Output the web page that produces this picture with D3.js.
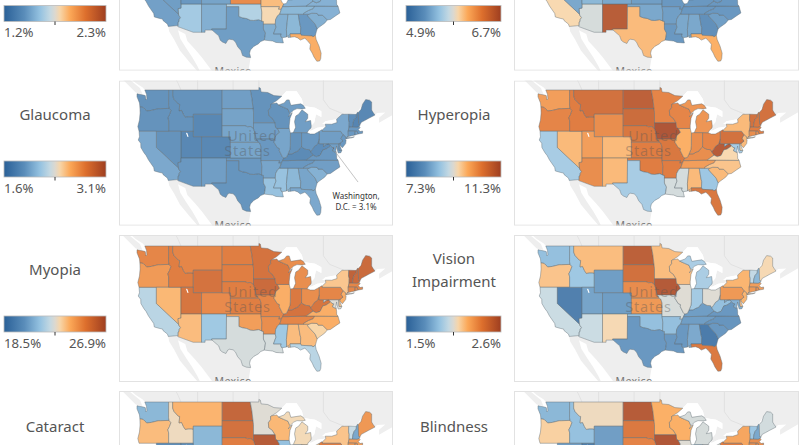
<!DOCTYPE html>
<html><head><meta charset="utf-8">
<script src="https://cdn.jsdelivr.net/npm/d3@7"></script>
<style>html,body{margin:0;background:#fff;overflow:hidden}text{font-family:"Noto Sans",sans-serif}</style>
</head><body><svg id="c" width="800" height="445"></svg>
<script>
// Simplified outlines, [lon, lat]
const stateShapes = {
WA:[[[-124.7,48.4],[-123.2,48.2],[-122.7,48.1],[-122.5,47.4],[-122.3,47.6],[-122.4,48.3],[-122.8,49],[-117.03,49],[-117.04,46.42],[-116.92,45.99],[-119,45.93],[-119.6,45.92],[-121.2,45.65],[-122.3,45.55],[-122.8,45.85],[-123.2,46.15],[-124,46.25],[-124.1,46.9],[-124.7,47.9]]],
OR:[[[-124,46.25],[-123.2,46.15],[-122.8,45.85],[-122.3,45.55],[-121.2,45.65],[-119.6,45.92],[-119,45.93],[-116.92,45.99],[-116.47,45.6],[-116.85,44.9],[-117.22,44.4],[-117.03,43.85],[-117.03,42],[-120,42],[-124.2,42],[-124.5,42.85],[-124.1,44],[-123.95,45.2]]],
CA:[[[-124.2,42],[-120,42],[-120,39],[-114.63,35],[-114.57,34.8],[-114.14,34.3],[-114.45,34],[-114.53,33.5],[-114.72,33.4],[-114.72,32.72],[-117.12,32.53],[-117.3,33],[-118.4,33.75],[-118.5,34.03],[-119.2,34.15],[-120.5,34.45],[-120.65,35.15],[-121.9,36.6],[-122.5,37.5],[-123,38],[-123.75,39],[-123.8,39.8],[-124.4,40.4],[-124.1,41]]],
NV:[[[-120,42],[-117.03,42],[-114.04,42],[-114.04,37],[-114.04,36.2],[-114.75,36.1],[-114.63,35],[-120,39]]],
ID:[[[-117.03,49],[-116.05,49],[-116.05,48],[-115.7,47.45],[-114.7,46.7],[-114.35,46.65],[-114.5,45.55],[-113.9,45.65],[-113.45,44.95],[-113,44.45],[-112.3,44.55],[-111.5,44.55],[-111.05,44.48],[-111.05,42],[-114.04,42],[-117.03,42],[-117.03,43.85],[-117.22,44.4],[-116.85,44.9],[-116.47,45.6],[-116.92,45.99],[-117.04,46.42]]],
MT:[[[-116.05,49],[-104.05,49],[-104.05,45.94],[-104.05,45],[-111.05,45],[-111.05,44.48],[-111.5,44.55],[-112.3,44.55],[-113,44.45],[-113.45,44.95],[-113.9,45.65],[-114.5,45.55],[-114.35,46.65],[-114.7,46.7],[-115.7,47.45],[-116.05,48]]],
WY:[[[-111.05,45],[-104.05,45],[-104.05,43],[-104.05,41],[-109.05,41],[-111.05,41],[-111.05,42],[-111.05,44.48]]],
UT:[[[-114.04,42],[-111.05,42],[-111.05,41],[-109.05,41],[-109.05,37],[-114.04,37]]],
AZ:[[[-114.04,37],[-109.05,37],[-109.05,31.33],[-111.07,31.33],[-114.82,32.5],[-114.72,32.72],[-114.72,33.4],[-114.53,33.5],[-114.45,34],[-114.14,34.3],[-114.57,34.8],[-114.63,35],[-114.75,36.1],[-114.04,36.2]]],
CO:[[[-109.05,41],[-104.05,41],[-102.05,41],[-102.05,40],[-102.05,37],[-103,37],[-109.05,37]]],
NM:[[[-109.05,37],[-103,37],[-103,36.5],[-103.04,32],[-106.62,32],[-106.5,31.78],[-108.2,31.78],[-108.2,31.33],[-109.05,31.33]]],
TX:[[[-103,36.5],[-100,36.5],[-100,34.56],[-99.2,34.3],[-98.1,34.13],[-97.2,33.8],[-96.4,33.75],[-95.2,33.9],[-94.48,33.64],[-94.04,33.55],[-94.04,33],[-94.04,31.99],[-93.55,31.2],[-93.7,30.3],[-93.85,29.7],[-94.7,29.4],[-95.3,28.9],[-96.4,28.35],[-97.2,27.6],[-97.4,26.9],[-97.15,25.95],[-98.2,26.05],[-99.1,26.4],[-99.5,27.5],[-100.3,28.3],[-100.8,29.25],[-101.4,29.77],[-102.3,29.88],[-102.7,29.7],[-103.15,28.98],[-104,29.3],[-104.5,29.65],[-104.9,30.6],[-106.5,31.78],[-106.62,32],[-103.04,32]]],
OK:[[[-103,37],[-102.05,37],[-94.62,37],[-94.62,36.5],[-94.43,35.4],[-94.48,33.64],[-95.2,33.9],[-96.4,33.75],[-97.2,33.8],[-98.1,34.13],[-99.2,34.3],[-100,34.56],[-100,36.5],[-103,36.5]]],
KS:[[[-102.05,40],[-95.3,40],[-94.9,39.8],[-94.62,39.1],[-94.62,37],[-102.05,37]]],
NE:[[[-104.05,43],[-98.5,43],[-97.9,42.8],[-97.2,42.85],[-96.45,42.5],[-96.1,41.7],[-95.85,40.7],[-95.77,40.58],[-95.3,40],[-102.05,40],[-102.05,41],[-104.05,41]]],
SD:[[[-104.05,45.94],[-96.56,45.94],[-96.45,45.3],[-96.45,43.5],[-96.45,42.5],[-97.2,42.85],[-97.9,42.8],[-98.5,43],[-104.05,43]]],
ND:[[[-104.05,49],[-97.23,49],[-96.85,47.6],[-96.56,45.94],[-104.05,45.94]]],
MN:[[[-97.23,49],[-95.15,49],[-95.15,49.4],[-94.8,49.3],[-94.6,48.7],[-93,48.6],[-91.5,48.1],[-89.6,48],[-90.8,47.3],[-92.05,46.75],[-92.3,46.65],[-92.3,46.1],[-92.85,45.6],[-92.75,44.75],[-91.9,44.3],[-91.22,43.5],[-96.45,43.5],[-96.45,45.3],[-96.56,45.94],[-96.85,47.6]]],
IA:[[[-96.45,43.5],[-91.22,43.5],[-91.1,42.7],[-90.65,42.5],[-90.15,41.8],[-91.05,41.2],[-91.4,40.4],[-91.7,40.6],[-95.77,40.58],[-95.85,40.7],[-96.1,41.7],[-96.45,42.5]]],
MO:[[[-95.77,40.58],[-91.7,40.6],[-91.4,40.4],[-91.5,40],[-90.7,39],[-90.15,38.8],[-90.2,38.4],[-89.5,37.3],[-89.13,37],[-89.4,36.5],[-89.7,36],[-90.37,36],[-90.15,36.5],[-94.62,36.5],[-94.62,37],[-94.62,39.1],[-94.9,39.8],[-95.3,40]]],
AR:[[[-94.62,36.5],[-90.15,36.5],[-90.37,36],[-89.7,36],[-90.1,35],[-90.6,34.7],[-91.1,33.9],[-91.17,33],[-94.04,33],[-94.04,33.55],[-94.48,33.64],[-94.43,35.4]]],
LA:[[[-94.04,33],[-91.17,33],[-91,32.4],[-91.6,31],[-89.73,31],[-89.85,30.65],[-89.6,30.2],[-89.4,30.05],[-89.4,29.8],[-89.2,29.1],[-90.1,29.15],[-91,29.2],[-91.8,29.5],[-92.3,29.55],[-93.85,29.7],[-93.7,30.3],[-93.55,31.2],[-94.04,31.99]]],
MS:[[[-91.17,33],[-91.1,33.9],[-90.6,34.7],[-90.1,35],[-88.2,35],[-88.1,34.9],[-88.47,31.9],[-88.4,30.35],[-89.6,30.2],[-89.85,30.65],[-89.73,31],[-91.6,31],[-91,32.4]]],
AL:[[[-88.2,35],[-85.6,35],[-85.18,32.87],[-85,32.3],[-85.05,31],[-87.6,31],[-87.5,30.3],[-88.1,30.25],[-88,30.7],[-88.4,30.35],[-88.47,31.9],[-88.1,34.9]]],
TN:[[[-90.1,35],[-89.7,36],[-89.4,36.5],[-88.05,36.5],[-83.68,36.6],[-81.68,36.59],[-82,36.1],[-83.1,35.75],[-84.3,35.2],[-84.32,34.99],[-85.6,35],[-88.2,35]]],
KY:[[[-89.4,36.5],[-89.13,37],[-88.5,37.1],[-88.05,37.8],[-87.1,37.8],[-86.3,38.15],[-85.7,38.3],[-85.4,38.7],[-84.8,39.1],[-84.25,38.85],[-83.7,38.65],[-82.85,38.6],[-82.6,38.2],[-82,37.55],[-83.68,36.6],[-88.05,36.5]]],
IL:[[[-91.5,40],[-91.4,40.4],[-91.05,41.2],[-90.15,41.8],[-90.65,42.5],[-87.8,42.5],[-87.5,41.7],[-87.53,39.35],[-87.6,38.7],[-88.05,37.8],[-88.5,37.1],[-89.13,37],[-89.5,37.3],[-90.2,38.4],[-90.15,38.8],[-90.7,39]]],
IN:[[[-87.5,41.7],[-86.8,41.76],[-84.8,41.76],[-84.8,39.1],[-85.4,38.7],[-85.7,38.3],[-86.3,38.15],[-87.1,37.8],[-88.05,37.8],[-87.6,38.7],[-87.53,39.35]]],
OH:[[[-84.8,41.76],[-83.45,41.73],[-82.7,41.5],[-81.7,41.5],[-80.52,41.98],[-80.52,40.64],[-80.85,39.7],[-81.7,39.2],[-82.2,38.6],[-82.6,38.2],[-82.85,38.6],[-83.7,38.65],[-84.25,38.85],[-84.8,39.1]]],
WV:[[[-80.52,40.64],[-80.52,39.72],[-79.48,39.72],[-79.48,39.2],[-78.8,39.6],[-78.2,39.7],[-77.75,39.3],[-78.3,39],[-78.9,38.7],[-79.65,38.55],[-80.3,37.5],[-81.25,37.25],[-82,37.55],[-82.6,38.2],[-82.2,38.6],[-81.7,39.2],[-80.85,39.7]]],
VA:[[[-83.68,36.6],[-82,37.55],[-81.25,37.25],[-80.3,37.5],[-79.65,38.55],[-78.9,38.7],[-78.3,39],[-77.75,39.3],[-77.05,38.85],[-77.3,38.4],[-76.4,38],[-76.3,37.5],[-76.3,36.95],[-75.95,36.55],[-81.68,36.59]]],
NC:[[[-84.32,34.99],[-84.3,35.2],[-83.1,35.75],[-82,36.1],[-81.68,36.59],[-75.95,36.55],[-75.5,35.25],[-76.5,34.7],[-77.8,33.95],[-78.55,33.85],[-79.7,34.8],[-80.8,34.82],[-81,35.15],[-82.3,35.2],[-83.1,35]]],
SC:[[[-83.1,35],[-82.3,35.2],[-81,35.15],[-80.8,34.82],[-79.7,34.8],[-78.55,33.85],[-79.2,33.2],[-80.5,32.4],[-81,32.05],[-81.5,33],[-82.6,34],[-83.35,34.7]]],
GA:[[[-85.6,35],[-84.32,34.99],[-83.1,35],[-83.35,34.7],[-82.6,34],[-81.5,33],[-81,32.05],[-81.2,31.5],[-81.45,30.7],[-82.05,30.37],[-82.2,30.57],[-84.86,30.7],[-85.05,31],[-85,32.3],[-85.18,32.87]]],
FL:[[[-87.6,31],[-85.05,31],[-84.86,30.7],[-82.2,30.57],[-82.05,30.37],[-81.45,30.7],[-81.25,29.8],[-80.55,28.4],[-80.05,26.9],[-80.15,25.75],[-80.4,25.2],[-81.1,25.15],[-81.8,26.1],[-82.2,26.9],[-82.8,27.8],[-82.65,28.8],[-83.4,29.6],[-84,30.1],[-85.1,29.7],[-85.7,30.15],[-86.5,30.4],[-87.5,30.3]]],
MI:[[[-86.8,41.76],[-84.8,41.76],[-83.45,41.73],[-83.1,42.2],[-82.5,42.6],[-82.45,43],[-82.6,43.9],[-83.9,43.7],[-83.3,44.3],[-83.3,45],[-84.7,45.75],[-85.5,45],[-86.2,44.7],[-86.5,43.7],[-86.25,42.7]],[[-90.4,46.55],[-89,46.9],[-88.4,47.4],[-87.8,47.4],[-87.4,46.5],[-85,46.75],[-84.4,46.5],[-83.9,46],[-84.7,45.9],[-85.9,45.95],[-86.7,45.7],[-87.6,45.1],[-87.8,45.35],[-88.1,45.85],[-89.1,46.15]]],
WI:[[[-92.05,46.75],[-90.8,46.9],[-90.4,46.55],[-89.1,46.15],[-88.1,45.85],[-87.8,45.35],[-87.6,45.1],[-88,44.55],[-87.05,45.25],[-87.6,44.3],[-87.8,43],[-87.8,42.5],[-90.65,42.5],[-91.1,42.7],[-91.22,43.5],[-91.9,44.3],[-92.75,44.75],[-92.85,45.6],[-92.3,46.1],[-92.3,46.65]]],
PA:[[[-80.52,41.98],[-80,42.25],[-79.76,42.25],[-79.76,42],[-75.35,42],[-74.7,41.36],[-75.1,40.95],[-75.2,40.65],[-74.75,40.2],[-75.4,39.82],[-75.8,39.72],[-79.48,39.72],[-80.52,39.72],[-80.52,40.64]]],
NY:[[[-79.76,42.25],[-78.9,42.85],[-79.05,43.27],[-77.5,43.25],[-76.2,43.55],[-76.3,44.15],[-75,44.98],[-73.35,45],[-73.4,44],[-73.25,43.6],[-73.28,42.75],[-73.5,42.05],[-73.48,41.2],[-73.7,41],[-74,40.7],[-74.1,41],[-74.7,41.36],[-75.35,42],[-79.76,42]],[[-74,40.6],[-72,41],[-72.6,40.8],[-73.75,40.85]]],
VT:[[[-73.35,45],[-71.5,45],[-71.55,44.5],[-72.05,44.1],[-72.35,43.5],[-72.46,42.73],[-73.28,42.75],[-73.25,43.6],[-73.4,44]]],
NH:[[[-71.5,45],[-71.3,45.3],[-71.05,45.3],[-70.98,43.4],[-70.7,43.07],[-70.82,42.87],[-71.3,42.7],[-72.46,42.73],[-72.35,43.5],[-72.05,44.1],[-71.55,44.5]]],
ME:[[[-71.05,45.3],[-70.4,45.8],[-70,46.7],[-69.25,47.45],[-68.3,47.35],[-67.8,47.05],[-67.8,45.7],[-67.45,45.3],[-67,44.85],[-68.5,44.3],[-69.5,43.9],[-70.3,43.6],[-70.7,43.07],[-70.98,43.4]]],
MA:[[[-73.5,42.05],[-73.28,42.75],[-72.46,42.73],[-71.3,42.7],[-70.82,42.87],[-70.6,42.65],[-71.05,42.3],[-70.6,41.95],[-70,42.05],[-70,41.65],[-71.1,41.5],[-71.38,42.02],[-71.8,42.02]]],
CT:[[[-73.5,42.05],[-71.8,42.02],[-71.85,41.32],[-73.7,41],[-73.48,41.2]]],
RI:[[[-71.8,42.02],[-71.38,42.02],[-71.1,41.5],[-71.85,41.32]]],
NJ:[[[-74.7,41.36],[-74.1,41],[-74,40.7],[-74.2,40.5],[-74,40.4],[-74.1,39.75],[-74.9,38.95],[-75.5,39.5],[-75.4,39.82],[-74.75,40.2],[-75.2,40.65],[-75.1,40.95]]],
DE:[[[-75.8,39.72],[-75.4,39.82],[-75.55,39.45],[-75.05,38.45],[-75.7,38.45]]],
MD:[[[-79.48,39.72],[-75.8,39.72],[-75.7,38.45],[-75.05,38.45],[-75.25,38.03],[-75.9,37.95],[-76.2,38.7],[-76.3,39.3],[-76.5,38.4],[-76.35,38.05],[-77.3,38.4],[-77.05,38.85],[-77.75,39.3],[-78.2,39.7],[-78.8,39.6],[-79.48,39.2]]],
DC:[[[-77.12,38.93],[-77.04,39],[-76.91,38.89],[-77.04,38.79]]]
};
const canada = [[-140,70],[-50,70],[-50,47],[-59.5,47],[-61,45.6],[-66,43.5],[-66,44.4],[-64.5,45.3],[-66.5,45.2],[-67,44.85],[-67.45,45.3],[-67.8,45.7],[-67.8,47.05],[-68.3,47.35],[-69.25,47.45],[-70,46.7],[-71.3,45.3],[-73.35,45],[-75,44.98],[-76.3,44.15],[-79,43.8],[-79.8,43.3],[-79.05,43.27],[-78.9,42.85],[-81,42.65],[-82.5,42.1],[-83.1,42.2],[-82.45,43],[-81.7,43.6],[-81.3,45],[-80,44.5],[-80,45.5],[-81.5,46.1],[-84.3,46.4],[-84.7,47.5],[-86,48.8],[-88.5,48.8],[-89.6,48],[-91.5,48.1],[-94.6,48.7],[-95.15,49],[-122.8,49],[-123.3,49.4],[-125,50.1],[-127.5,51.5],[-130,54],[-135,60]];
const vancouverIsland = [[-128.4,50.8],[-125,48.6],[-123.4,48.35],[-124,49.3],[-127,50.9]];
const baja = [[-117.12,32.53],[-114.72,32.72],[-114.82,32.5],[-114.7,31.6],[-114.2,30],[-112.8,28],[-111.3,26],[-110,24],[-109.5,23],[-110,22.9],[-112,25],[-114.3,27.5],[-115.7,29.8],[-116.9,31.5]];
const mexicoMain = [[-114.82,32.5],[-111.07,31.33],[-108.2,31.33],[-108.2,31.78],[-106.5,31.78],[-104.9,30.6],[-104.5,29.65],[-104,29.3],[-103.15,28.98],[-102.7,29.7],[-102.3,29.88],[-101.4,29.77],[-100.8,29.25],[-100.3,28.3],[-99.5,27.5],[-99.1,26.4],[-98.2,26.05],[-97.15,25.95],[-97.8,22.3],[-97.5,20],[-99,18],[-105.5,20],[-106.5,23],[-109,26],[-110.7,27.8],[-112.5,29.5],[-113,31],[-114.7,31.7]];
const lakes = [
 [[-92,46.7],[-89.6,48],[-88.5,48.8],[-86,48.8],[-84.7,47.5],[-84.4,46.5],[-85,46.75],[-87.4,46.5],[-90.4,46.7]],
 [[-87.6,45.1],[-87.8,43],[-87.8,42.5],[-87.5,41.7],[-86.8,41.76],[-86.25,42.7],[-86.5,43.7],[-86.2,44.7],[-85.5,45],[-84.7,45.75],[-85.9,45.95],[-86.7,45.7]],
 [[-84.7,45.9],[-83.9,46],[-84.3,46.4],[-81.5,46.1],[-80,45.5],[-80,44.5],[-81.3,45],[-81.7,43.6],[-82.45,43],[-82.6,43.9],[-83.9,43.7],[-83.3,44.3],[-83.3,45]],
 [[-83.45,41.73],[-83.1,42.05],[-82.5,42.1],[-81,42.65],[-78.9,42.85],[-80,42.25],[-80.52,41.98],[-81.7,41.5],[-82.7,41.5]],
 [[-79.8,43.3],[-79.05,43.27],[-77.5,43.25],[-76.2,43.55],[-76.3,44.15],[-77.5,44],[-79,43.8]]
];
const saltLake = [[-112.85,41.75],[-112.5,41.7],[-112.2,41.0],[-112.45,40.95]];
const canadaBorders = [
 [[-114.05,49],[-114.7,50],[-115.5,51]],[[-110,49],[-110,52]],[[-101.4,49],[-101.4,52]],[[-95.15,49.4],[-95.15,52]],
 [[-79.5,52],[-79.5,47.4],[-78,46],[-74.5,45]]
];

const glaucoma = {WY:1.78,UT:1.78,CO:1.78,ME:1.78,NH:1.76,MT:1.86,ID:1.86,WA:1.86,NV:1.86,OR:1.86,MN:1.86,ND:1.93,SD:1.95,CA:1.98,AZ:1.9,NM:1.93,TX:1.87,OK:1.9,KS:1.96,NE:1.96,IA:1.93,MO:1.9,AR:1.96,LA:2.1,MS:2.1,AL:2.05,GA:1.96,FL:1.98,SC:2.02,NC:1.93,TN:1.9,KY:1.8,WV:1.82,VA:1.9,MD:1.93,PA:1.93,NY:1.98,OH:1.9,IN:1.86,IL:1.96,WI:1.86,MI:1.93,VT:1.82,MA:1.9,CT:1.9,RI:1.93,NJ:1.9,DE:1.9,DC:3.1};
const hyperopia = {WA:10.1,OR:10.4,CA:8.8,NV:9.8,ID:10.5,MT:10.7,WY:10.3,UT:10.1,CO:9.8,AZ:10.3,NM:9.8,ND:11,SD:10.8,NE:10.6,KS:10.5,OK:10.5,TX:8.8,MN:10.4,IA:11.2,MO:10.6,AR:10.5,LA:9.2,MS:9.2,AL:9.8,GA:8.7,FL:10.6,SC:9.8,NC:9.7,TN:10.1,KY:10.3,WV:11.1,VA:9.5,MD:8.8,DE:9.5,NJ:9.8,PA:10.7,NY:9.8,OH:10.4,IN:10.3,IL:9.9,WI:10.4,MI:10.2,VT:10.7,NH:10.6,ME:10.7,MA:10.5,CT:10.3,RI:10.3,DC:9};
const myopia = {CA:22,WA:25,OR:24.5,NV:23.8,ID:25.2,MT:25,WY:25.6,UT:25.5,CO:24.9,AZ:23.7,NM:21.5,ND:25.2,SD:25.2,NE:25.2,KS:25.2,OK:24.4,TX:22.5,MN:25.6,IA:25.9,MO:25,AR:24.8,LA:22.5,MS:21.5,AL:23.7,GA:23.7,FL:22,SC:23.2,NC:24,TN:25,KY:25.6,WV:25.5,VA:24,MD:22.7,DE:23.5,NJ:24,PA:25,NY:23.5,OH:24.8,IN:25.4,IL:24,WI:25.4,MI:24.8,VT:26.2,NH:25.9,ME:25.9,MA:25,CT:25,RI:25,DC:22.7};
const visionImpairment = {WA:1.86,OR:2.16,CA:2,NV:1.59,ID:1.89,MT:2.18,WY:1.74,UT:1.76,CO:1.74,AZ:2,NM:2.1,ND:2.52,SD:2.44,NE:2.33,KS:2.29,OK:1.86,TX:1.72,MN:2.18,IA:2.55,MO:2.03,AR:1.86,LA:1.72,MS:1.72,AL:1.78,GA:1.57,FL:2.4,SC:1.72,NC:1.7,TN:1.74,KY:1.74,WV:1.86,VA:1.72,MD:1.81,DE:2.16,NJ:2.2,PA:2.29,NY:2.2,OH:2.05,IN:1.9,IL:2.05,WI:2.18,MI:1.92,VT:1.98,NH:1.83,ME:2.1,MA:2.27,CT:2.29,RI:2.32,DC:1.8};
const topLeft = {CA:1.45,AZ:1.6,NM:1.5,TX:1.44,OK:1.64,KS:2.03,AR:1.8,MO:1.88,LA:1.5,MS:1.5,AL:1.53,GA:1.42,FL:1.92,SC:1.5,NC:1.51,TN:1.53,KY:1.51,VA:1.51,WV:1.5,NV:1.44,UT:1.42,CO:1.46};
const topRight = {CA:5.89,AZ:5.76,NM:6.6,TX:6.02,OK:5.35,KS:5.3,AR:5.3,MO:5.26,LA:5.26,MS:5.35,AL:5.35,GA:5.19,FL:6.07,SC:5.3,NC:5.26,TN:5.26,KY:5.26,VA:5.26,WV:5.26,NV:5.35,UT:5.44,CO:5.35};
// Bottom row: the legends are outside the picture, values are positions on the colour ramp (0 to 1)
const cataract = {WA:.3,OR:.62,ID:.53,MT:.64,WY:.3,ND:.9,SD:.85,MN:.5,WI:.63,MI:.54,IA:.95,NE:.8,NY:.6,VT:.45,NH:.25,ME:.72,MA:.7,CT:.72,RI:.72,PA:.8,IL:.33,IN:.5,OH:.6,NV:.15,UT:.15,CO:.3,NJ:.7};
const blindness = {WA:.3,OR:.57,ID:.33,MT:.53,WY:.22,ND:.95,SD:.82,MN:.65,WI:.65,MI:.48,IA:.97,NE:.78,NY:.68,VT:.35,NH:.25,ME:.47,MA:.75,CT:.75,RI:.75,PA:.8,IL:.5,IN:.4,OH:.5,NV:.22,UT:.07,CO:.25,NJ:.7};

const rampStops = [0,.2,.35,.45,.5,.55,.65,.8,1];
const rampColors = ["#2a6097","#5a8dba","#93c1e0","#c3d8e2","#dcd8cf","#f7d5a8","#fba757","#dd6f2d","#9e3e20"];
const panels = [
 {title:[],values:topLeft,low:1.2,high:2.3,col:0,row:0,legend:true},
 {title:[],values:topRight,low:4.9,high:6.7,col:1,row:0,legend:true},
 {title:["Glaucoma"],values:glaucoma,low:1.6,high:3.1,col:0,row:1,legend:true},
 {title:["Hyperopia"],values:hyperopia,low:7.3,high:11.3,col:1,row:1,legend:true},
 {title:["Myopia"],values:myopia,low:18.5,high:26.9,col:0,row:2,legend:true},
 {title:["Vision","Impairment"],values:visionImpairment,low:1.5,high:2.6,col:1,row:2,legend:true},
 {title:["Cataract"],values:cataract,low:0,high:1,col:0,row:3,legend:false},
 {title:["Blindness"],values:blindness,low:0,high:1,col:1,row:3,legend:false}
];

const svg = d3.select("#c");
const defs = svg.append("defs");
const ramp = d3.scaleLinear().domain(rampStops).range(rampColors).interpolate(d3.interpolateRgb);
const grad = defs.append("linearGradient").attr("id","ramp");
rampStops.forEach((s,i)=>grad.append("stop").attr("offset",s).attr("stop-color",rampColors[i]));

const projection = d3.geoMercator().scale(236.3).translate([0,0]);
const line = d3.line().x(d=>projection(d)[0]).y(d=>projection(d)[1]);
const ringPath = r => line(r)+"Z";
const origin = projection([-124.7,49]);

const colLayout = [{px:119,pw:274,mapX:137,lx:4,lw:102,tx:55},{px:514,pw:285,mapX:538,lx:406,lw:95,tx:454}];
const rowLayout = [{py:-75,ph:145.7,mapY:-64,ly:5.5,ty:0},{py:80.5,ph:145.2,mapY:90,ly:161,ty:115},{py:235,ph:147,mapY:246,ly:316,ty:270},{py:391,ph:147,mapY:402,ly:472,ty:427}];

panels.forEach((p,i)=>{
  const c = colLayout[p.col], r = rowLayout[p.row];
  defs.append("clipPath").attr("id","clip"+i).append("rect").attr("x",c.px).attr("y",r.py).attr("width",c.pw).attr("height",r.ph);
  const outer = svg.append("g").attr("clip-path",`url(#clip${i})`);
  outer.append("rect").attr("x",c.px).attr("y",r.py).attr("width",c.pw).attr("height",r.ph).attr("fill","#fff");
  const g = outer.append("g").attr("transform",`translate(${c.mapX-origin[0]},${r.mapY-origin[1]})`);
  [canada,vancouverIsland,baja,mexicoMain].forEach(s=>g.append("path").attr("d",ringPath(s)).attr("fill","#eeeeee"));
  g.selectAll("path.border").data(canadaBorders).join("path").attr("class","border").attr("d",line).attr("fill","none").attr("stroke","#d8d8d8").attr("stroke-width",.6);
  g.selectAll("path.lake").data(lakes).join("path").attr("class","lake").attr("d",ringPath).attr("fill","#fff");
  g.selectAll("path.state").data(Object.keys(p.values)).join("path").attr("class","state")
    .attr("d",k=>stateShapes[k].map(ringPath).join(""))
    .attr("fill",k=>ramp((p.values[k]-p.low)/(p.high-p.low)))
    .attr("fill-opacity",.9)
    .attr("stroke","#5f6b72").attr("stroke-opacity",.62).attr("stroke-width",.7).attr("stroke-linejoin","round");
  g.append("path").attr("d",ringPath(saltLake)).attr("fill","#fff");
  const us = projection([-97.2,39.7]);
  if(p.row===1||p.row===2){
    const lab = g.append("text").attr("fill","#555").attr("fill-opacity",.38).attr("font-size",14.5).attr("text-anchor","middle").attr("letter-spacing",.8);
    lab.append("tspan").attr("x",us[0]+2).attr("y",us[1]-3).text("United");
    lab.append("tspan").attr("x",us[0]-3).attr("y",us[1]+12).text("States");
  }
  if(p.row<3){
    const mx = projection([-101.4,22.2]);
    g.append("text").attr("x",mx[0]).attr("y",mx[1]).attr("fill","#777").attr("font-size",10.5).attr("text-anchor","middle").attr("letter-spacing",.4).text("Mexico");
  }
  if(p.values===glaucoma){
    const d = projection([-77.04,38.9]);
    g.append("line").attr("x1",d[0]+2).attr("y1",d[1]+4).attr("x2",d[0]+24.5).attr("y2",d[1]+34).attr("stroke","#aaa").attr("stroke-width",.7);
    const t = g.append("text").attr("font-size",8).attr("fill","#333").attr("text-anchor","middle");
    t.append("tspan").attr("x",d[0]+22.5).attr("y",d[1]+51).text("Washington,");
    t.append("tspan").attr("x",d[0]+22.5).attr("y",d[1]+62).text("D.C. = 3.1%");
  }
  outer.append("rect").attr("x",c.px+.5).attr("y",r.py+.5).attr("width",c.pw-1).attr("height",r.ph-1).attr("fill","none").attr("stroke","#e2e2e2");
  // titles
  const n = p.title.length;
  p.title.forEach((t,j)=>svg.append("text").attr("x",c.tx).attr("y",r.ty+5+(j-(n-1)/2)*23).attr("text-anchor","middle")
    .attr("font-size",15).attr("fill","#555").text(t));
  // legend
  if(p.legend){
    svg.append("rect").attr("x",c.lx).attr("y",r.ly).attr("width",c.lw).attr("height",16).attr("fill","url(#ramp)").attr("stroke","#bbb").attr("stroke-width",.8);
    svg.append("line").attr("x1",c.lx+c.lw/2).attr("x2",c.lx+c.lw/2).attr("y1",r.ly+16).attr("y2",r.ly+19.5).attr("stroke","#333").attr("stroke-width",1);
    svg.append("text").attr("x",c.lx).attr("y",r.ly+31.5).attr("font-size",13.2).attr("fill","#555").text(p.low+"%");
    svg.append("text").attr("x",c.lx+c.lw).attr("y",r.ly+31.5).attr("text-anchor","end").attr("font-size",13.2).attr("fill","#555").text(p.high+"%");
  }
});
</script></body></html>
